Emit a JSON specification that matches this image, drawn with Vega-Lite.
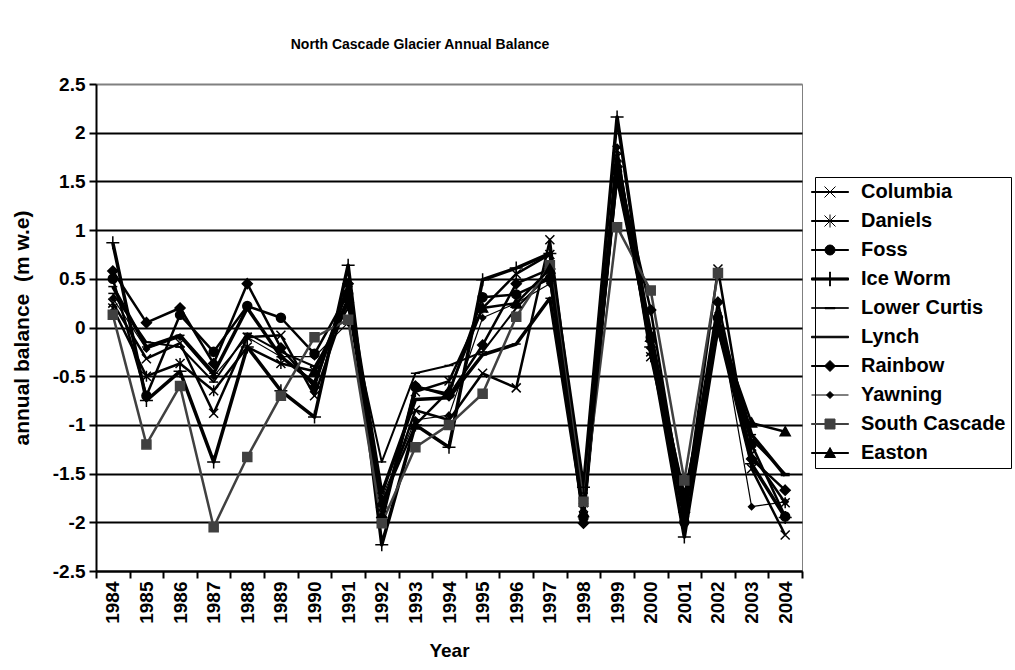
{
"$schema": "https://vega.github.io/schema/vega-lite/v6.json",
"width": 706, "height": 487,
"autosize": "none",
"padding": {"left": 96, "top": 84, "right": 213, "bottom": 99},
"background": "white",
"title": {"text": "North Cascade Glacier Annual Balance", "fontSize": 14, "fontWeight": "bold", "font": "Liberation Sans", "anchor": "middle", "dx": -29, "offset": 23, "color": "black"},
"config": {"font": "Liberation Sans", "view": {"stroke": "#808080", "strokeWidth": 1}},
"datasets": {"bal": [
{"year":"1984","glacier":"Columbia","value":0.25},{"year":"1985","glacier":"Columbia","value":-0.32},{"year":"1986","glacier":"Columbia","value":-0.16},{"year":"1987","glacier":"Columbia","value":-0.88},{"year":"1988","glacier":"Columbia","value":-0.1},{"year":"1989","glacier":"Columbia","value":-0.08},{"year":"1990","glacier":"Columbia","value":-0.7},{"year":"1991","glacier":"Columbia","value":0.3},{"year":"1992","glacier":"Columbia","value":-1.85},{"year":"1993","glacier":"Columbia","value":-0.85},{"year":"1994","glacier":"Columbia","value":-0.95},{"year":"1995","glacier":"Columbia","value":-0.47},{"year":"1996","glacier":"Columbia","value":-0.62},{"year":"1997","glacier":"Columbia","value":0.9},{"year":"1998","glacier":"Columbia","value":-1.8},{"year":"1999","glacier":"Columbia","value":1.75},{"year":"2000","glacier":"Columbia","value":-0.25},{"year":"2001","glacier":"Columbia","value":-1.9},{"year":"2002","glacier":"Columbia","value":0.6},{"year":"2003","glacier":"Columbia","value":-1.45},{"year":"2004","glacier":"Columbia","value":-2.13},
{"year":"1984","glacier":"Daniels","value":0.2},{"year":"1985","glacier":"Daniels","value":-0.5},{"year":"1986","glacier":"Daniels","value":-0.37},{"year":"1987","glacier":"Daniels","value":-0.65},{"year":"1988","glacier":"Daniels","value":-0.2},{"year":"1989","glacier":"Daniels","value":-0.37},{"year":"1990","glacier":"Daniels","value":-0.45},{"year":"1991","glacier":"Daniels","value":0.25},{"year":"1992","glacier":"Daniels","value":-1.9},{"year":"1993","glacier":"Daniels","value":-0.66},{"year":"1994","glacier":"Daniels","value":-0.55},{"year":"1995","glacier":"Daniels","value":0.2},{"year":"1996","glacier":"Daniels","value":0.55},{"year":"1997","glacier":"Daniels","value":0.75},{"year":"1998","glacier":"Daniels","value":-1.85},{"year":"1999","glacier":"Daniels","value":1.82},{"year":"2000","glacier":"Daniels","value":-0.3},{"year":"2001","glacier":"Daniels","value":-1.85},{"year":"2002","glacier":"Daniels","value":0.05},{"year":"2003","glacier":"Daniels","value":-1.3},{"year":"2004","glacier":"Daniels","value":-1.8},
{"year":"1984","glacier":"Foss","value":0.5},{"year":"1985","glacier":"Foss","value":-0.7},{"year":"1986","glacier":"Foss","value":0.13},{"year":"1987","glacier":"Foss","value":-0.25},{"year":"1988","glacier":"Foss","value":0.22},{"year":"1989","glacier":"Foss","value":0.1},{"year":"1990","glacier":"Foss","value":-0.27},{"year":"1991","glacier":"Foss","value":0.35},{"year":"1992","glacier":"Foss","value":-2.0},{"year":"1993","glacier":"Foss","value":-0.61},{"year":"1994","glacier":"Foss","value":-0.68},{"year":"1995","glacier":"Foss","value":0.31},{"year":"1996","glacier":"Foss","value":0.34},{"year":"1997","glacier":"Foss","value":0.5},{"year":"1998","glacier":"Foss","value":-1.95},{"year":"1999","glacier":"Foss","value":1.6},{"year":"2000","glacier":"Foss","value":-0.1},{"year":"2001","glacier":"Foss","value":-2.0},{"year":"2002","glacier":"Foss","value":0.1},{"year":"2003","glacier":"Foss","value":-1.2},{"year":"2004","glacier":"Foss","value":-1.94},
{"year":"1984","glacier":"Ice Worm","value":0.87},{"year":"1985","glacier":"Ice Worm","value":-0.75},{"year":"1986","glacier":"Ice Worm","value":-0.45},{"year":"1987","glacier":"Ice Worm","value":-1.38},{"year":"1988","glacier":"Ice Worm","value":-0.2},{"year":"1989","glacier":"Ice Worm","value":-0.65},{"year":"1990","glacier":"Ice Worm","value":-0.92},{"year":"1991","glacier":"Ice Worm","value":0.64},{"year":"1992","glacier":"Ice Worm","value":-2.23},{"year":"1993","glacier":"Ice Worm","value":-1.0},{"year":"1994","glacier":"Ice Worm","value":-1.23},{"year":"1995","glacier":"Ice Worm","value":0.49},{"year":"1996","glacier":"Ice Worm","value":0.61},{"year":"1997","glacier":"Ice Worm","value":0.76},{"year":"1998","glacier":"Ice Worm","value":-1.64},{"year":"1999","glacier":"Ice Worm","value":2.16},{"year":"2000","glacier":"Ice Worm","value":-0.2},{"year":"2001","glacier":"Ice Worm","value":-2.15},{"year":"2002","glacier":"Ice Worm","value":0.0},{"year":"2003","glacier":"Ice Worm","value":-1.4},{"year":"2004","glacier":"Ice Worm","value":-1.95},
{"year":"1984","glacier":"Lower Curtis","value":0.35},{"year":"1985","glacier":"Lower Curtis","value":-0.15},{"year":"1986","glacier":"Lower Curtis","value":-0.2},{"year":"1987","glacier":"Lower Curtis","value":-0.56},{"year":"1988","glacier":"Lower Curtis","value":-0.06},{"year":"1989","glacier":"Lower Curtis","value":-0.25},{"year":"1990","glacier":"Lower Curtis","value":-0.4},{"year":"1991","glacier":"Lower Curtis","value":0.2},{"year":"1992","glacier":"Lower Curtis","value":-1.38},{"year":"1993","glacier":"Lower Curtis","value":-0.47},{"year":"1994","glacier":"Lower Curtis","value":-0.39},{"year":"1995","glacier":"Lower Curtis","value":-0.25},{"year":"1996","glacier":"Lower Curtis","value":0.2},{"year":"1997","glacier":"Lower Curtis","value":0.55},{"year":"1998","glacier":"Lower Curtis","value":-1.7},{"year":"1999","glacier":"Lower Curtis","value":1.5},{"year":"2000","glacier":"Lower Curtis","value":-0.15},{"year":"2001","glacier":"Lower Curtis","value":-1.7},{"year":"2002","glacier":"Lower Curtis","value":-0.05},{"year":"2003","glacier":"Lower Curtis","value":-1.15},{"year":"2004","glacier":"Lower Curtis","value":-1.5},
{"year":"1984","glacier":"Lynch","value":0.42},{"year":"1985","glacier":"Lynch","value":-0.2},{"year":"1986","glacier":"Lynch","value":-0.08},{"year":"1987","glacier":"Lynch","value":-0.47},{"year":"1988","glacier":"Lynch","value":0.2},{"year":"1989","glacier":"Lynch","value":-0.3},{"year":"1990","glacier":"Lynch","value":-0.57},{"year":"1991","glacier":"Lynch","value":0.42},{"year":"1992","glacier":"Lynch","value":-1.7},{"year":"1993","glacier":"Lynch","value":-0.74},{"year":"1994","glacier":"Lynch","value":-0.72},{"year":"1995","glacier":"Lynch","value":-0.28},{"year":"1996","glacier":"Lynch","value":-0.17},{"year":"1997","glacier":"Lynch","value":0.3},{"year":"1998","glacier":"Lynch","value":-1.9},{"year":"1999","glacier":"Lynch","value":1.7},{"year":"2000","glacier":"Lynch","value":-0.05},{"year":"2001","glacier":"Lynch","value":-1.8},{"year":"2002","glacier":"Lynch","value":0.1},{"year":"2003","glacier":"Lynch","value":-1.1},{"year":"2004","glacier":"Lynch","value":-1.52},
{"year":"1984","glacier":"Rainbow","value":0.58},{"year":"1985","glacier":"Rainbow","value":0.05},{"year":"1986","glacier":"Rainbow","value":0.2},{"year":"1987","glacier":"Rainbow","value":-0.37},{"year":"1988","glacier":"Rainbow","value":0.45},{"year":"1989","glacier":"Rainbow","value":-0.21},{"year":"1990","glacier":"Rainbow","value":-0.61},{"year":"1991","glacier":"Rainbow","value":0.45},{"year":"1992","glacier":"Rainbow","value":-1.95},{"year":"1993","glacier":"Rainbow","value":-0.6},{"year":"1994","glacier":"Rainbow","value":-0.7},{"year":"1995","glacier":"Rainbow","value":-0.18},{"year":"1996","glacier":"Rainbow","value":0.45},{"year":"1997","glacier":"Rainbow","value":0.6},{"year":"1998","glacier":"Rainbow","value":-2.01},{"year":"1999","glacier":"Rainbow","value":1.65},{"year":"2000","glacier":"Rainbow","value":0.18},{"year":"2001","glacier":"Rainbow","value":-1.9},{"year":"2002","glacier":"Rainbow","value":0.26},{"year":"2003","glacier":"Rainbow","value":-1.35},{"year":"2004","glacier":"Rainbow","value":-1.67},
{"year":"1984","glacier":"Yawning","value":0.3},{"year":"1985","glacier":"Yawning","value":-0.22},{"year":"1986","glacier":"Yawning","value":-0.1},{"year":"1987","glacier":"Yawning","value":-0.5},{"year":"1988","glacier":"Yawning","value":-0.1},{"year":"1989","glacier":"Yawning","value":-0.3},{"year":"1990","glacier":"Yawning","value":-0.3},{"year":"1991","glacier":"Yawning","value":0.05},{"year":"1992","glacier":"Yawning","value":-1.75},{"year":"1993","glacier":"Yawning","value":-0.95},{"year":"1994","glacier":"Yawning","value":-0.9},{"year":"1995","glacier":"Yawning","value":0.1},{"year":"1996","glacier":"Yawning","value":0.25},{"year":"1997","glacier":"Yawning","value":0.45},{"year":"1998","glacier":"Yawning","value":-1.75},{"year":"1999","glacier":"Yawning","value":1.85},{"year":"2000","glacier":"Yawning","value":-0.2},{"year":"2001","glacier":"Yawning","value":-1.95},{"year":"2002","glacier":"Yawning","value":0.15},{"year":"2003","glacier":"Yawning","value":-1.84},{"year":"2004","glacier":"Yawning","value":-1.79},
{"year":"1984","glacier":"South Cascade","value":0.13},{"year":"1985","glacier":"South Cascade","value":-1.2},{"year":"1986","glacier":"South Cascade","value":-0.6},{"year":"1987","glacier":"South Cascade","value":-2.05},{"year":"1988","glacier":"South Cascade","value":-1.33},{"year":"1989","glacier":"South Cascade","value":-0.7},{"year":"1990","glacier":"South Cascade","value":-0.1},{"year":"1991","glacier":"South Cascade","value":0.08},{"year":"1992","glacier":"South Cascade","value":-2.01},{"year":"1993","glacier":"South Cascade","value":-1.23},{"year":"1994","glacier":"South Cascade","value":-1.0},{"year":"1995","glacier":"South Cascade","value":-0.68},{"year":"1996","glacier":"South Cascade","value":0.11},{"year":"1997","glacier":"South Cascade","value":0.64},{"year":"1998","glacier":"South Cascade","value":-1.79},{"year":"1999","glacier":"South Cascade","value":1.03},{"year":"2000","glacier":"South Cascade","value":0.38},{"year":"2001","glacier":"South Cascade","value":-1.57},{"year":"2002","glacier":"South Cascade","value":0.56},
{"year":"1990","glacier":"Easton","value":-0.45},{"year":"1991","glacier":"Easton","value":0.3},{"year":"1992","glacier":"Easton","value":-1.8},{"year":"1993","glacier":"Easton","value":-1.0},{"year":"1994","glacier":"Easton","value":-0.65},{"year":"1995","glacier":"Easton","value":0.2},{"year":"1996","glacier":"Easton","value":0.25},{"year":"1997","glacier":"Easton","value":0.6},{"year":"1998","glacier":"Easton","value":-1.9},{"year":"1999","glacier":"Easton","value":1.55},{"year":"2000","glacier":"Easton","value":-0.1},{"year":"2001","glacier":"Easton","value":-1.85},{"year":"2002","glacier":"Easton","value":0.0},{"year":"2003","glacier":"Easton","value":-0.98},{"year":"2004","glacier":"Easton","value":-1.07}
]},
"data": {"name": "bal"},
"encoding": {
  "x": {"field": "year", "type": "ordinal", "scale": {"type": "band", "paddingInner": 0, "paddingOuter": 0},
    "axis": {"title": "Year", "titleFontSize": 19, "titleFontWeight": "bold", "titleColor": "black", "titlePadding": 18,
      "labelAngle": -90, "labelFontSize": 19, "labelFontWeight": "bold", "labelColor": "black", "labelPadding": 3,
      "tickBand": "extent", "tickColor": "black", "tickSize": 7, "tickWidth": 2,
      "domainColor": "black", "domainWidth": 2, "grid": false}},
  "y": {"field": "value", "type": "quantitative", "scale": {"domain": [-2.5, 2.5], "nice": false, "zero": false},
    "axis": {"title": "annual balance\u00a0 (m w.e)", "titleFontSize": 21, "titleFontWeight": "bold", "titleColor": "black", "titlePadding": 20,
      "values": [-2.5, -2, -1.5, -1, -0.5, 0, 0.5, 1, 1.5, 2, 2.5], "labelExpr": "'' + datum.value",
      "labelFontSize": 19, "labelFontWeight": "bold", "labelColor": "black", "labelPadding": 4,
      "tickColor": "black", "tickSize": 7, "tickWidth": 2, "domainColor": "black", "domainWidth": 2,
      "grid": true, "gridColor": {"condition": {"test": "datum.value === 2.5", "value": "#808080"}, "value": "black"}, "gridWidth": 2}}
},
"layer": [
  {"mark": {"type": "line", "strokeJoin": "round"},
   "encoding": {
     "detail": {"field": "glacier", "type": "nominal"},
     "stroke": {"condition": {"test": "datum.glacier === 'South Cascade'", "value": "#404040"}, "value": "black"},
     "strokeWidth": {"condition": [{"test": "datum.glacier === 'Ice Worm' || datum.glacier === 'Lynch'", "value": 3.5}, {"test": "datum.glacier === 'Yawning'", "value": 1.2}, {"test": "datum.glacier === 'Lower Curtis'", "value": 2}], "value": 2.5}
   }},
  {"mark": {"type": "point", "filled": true, "size": 100, "opacity": 1, "strokeWidth": 1.5},
   "encoding": {
     "shape": {"condition": [
       {"test": "datum.glacier === 'Columbia'", "value": "M-0.9,-0.9L0.9,0.9M-0.9,0.9L0.9,-0.9"},
       {"test": "datum.glacier === 'Daniels'", "value": "M-0.9,-0.9L0.9,0.9M-0.9,0.9L0.9,-0.9M0,-1.1V1.1"},
       {"test": "datum.glacier === 'Foss'", "value": "M-0.9,0A0.9,0.9,0,1,1,0.9,0A0.9,0.9,0,1,1,-0.9,0Z"},
       {"test": "datum.glacier === 'Ice Worm'", "value": "M-1.3,0H1.3M0,-1.3V1.3"},
       {"test": "datum.glacier === 'Lower Curtis' || datum.glacier === 'Lynch'", "value": "M-0.9,0H0.9"},
       {"test": "datum.glacier === 'Rainbow'", "value": "M0,-1L1,0L0,1L-1,0Z"},
       {"test": "datum.glacier === 'Yawning'", "value": "M0,-0.6L0.6,0L0,0.6L-0.6,0Z"},
       {"test": "datum.glacier === 'South Cascade'", "value": "M-0.9,-0.9H0.9V0.9H-0.9Z"}],
       "value": "M0,-1L1,0.8H-1Z"},
     "fill": {"condition": {"test": "datum.glacier === 'South Cascade'", "value": "#404040"}, "value": "black"},
     "stroke": {"condition": {"test": "datum.glacier === 'South Cascade'", "value": "#404040"}, "value": "black"}
   }},
  {"transform": [{"filter": "false"}],
   "mark": {"type": "point", "filled": true, "size": 100, "opacity": 1},
   "encoding": {
     "shape": {"field": "glacier", "type": "nominal",
       "scale": {"domain": ["Columbia","Daniels","Foss","Ice Worm","Lower Curtis","Lynch","Rainbow","Yawning","South Cascade","Easton"],
         "range": [
           "M-3.7,-0.1H3.7V0.1H-3.7ZM-1.1,-1.1L1.1,1.1M-1.1,1.1L1.1,-1.1",
           "M-3.7,-0.1H3.7V0.1H-3.7ZM-1.1,-1.1L1.1,1.1M-1.1,1.1L1.1,-1.1M0,-1.3V1.3",
           "M-3.7,-0.1H3.7V0.1H-3.7ZM-1,0A1,1,0,1,1,1,0A1,1,0,1,1,-1,0Z",
           "M-3.7,-0.22H3.7V0.22H-3.7ZM-0.08,-1.4H0.08V1.4H-0.08Z",
           "M-3.7,-0.05H3.7V0.05H-3.7ZM-1,-0.1H1V0.15H-1Z",
           "M-3.7,-0.15H3.7V0.15H-3.7Z",
           "M-3.7,-0.1H3.7V0.1H-3.7ZM0,-1.1L1.1,0L0,1.1L-1.1,0Z",
           "M-3.7,0H3.7M0,-0.7L0.7,0L0,0.7L-0.7,0Z",
           "M-3.7,-0.1H3.7V0.1H-3.7ZM-1,-1H1V1H-1Z",
           "M-3.7,-0.1H3.7V0.1H-3.7ZM0,-1.1L1.1,0.9H-1.1Z"]},
       "legend": {"title": null, "orient": "none", "legendX": 719, "legendY": 93, "direction": "vertical",
         "symbolSize": 100, "symbolStrokeWidth": 1, "symbolOpacity": 1,
         "labelFontSize": 20, "labelFontWeight": "bold", "labelFont": "Liberation Sans", "labelColor": "black",
         "rowPadding": 9, "labelOffset": 21, "padding": 5, "strokeColor": "black", "fillColor": "white", "labelLimit": 300}},
     "fill": {"field": "glacier", "type": "nominal",
       "scale": {"domain": ["Columbia","Daniels","Foss","Ice Worm","Lower Curtis","Lynch","Rainbow","Yawning","South Cascade","Easton"],
         "range": ["black","black","black","black","black","black","black","black","#404040","black"]}, "legend": {"title": null}},
     "stroke": {"field": "glacier", "type": "nominal",
       "scale": {"domain": ["Columbia","Daniels","Foss","Ice Worm","Lower Curtis","Lynch","Rainbow","Yawning","South Cascade","Easton"],
         "range": ["black","black","black","black","black","black","black","black","#404040","black"]}, "legend": {"title": null}}
   }}
]
}
